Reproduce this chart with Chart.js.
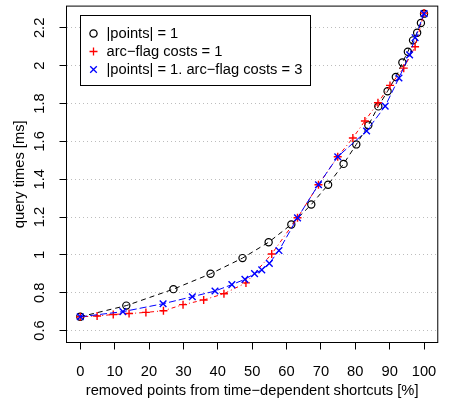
<!DOCTYPE html>
<html>
<head>
<meta charset="utf-8">
<script src="https://cdn.jsdelivr.net/npm/chart.js@4"></script>
<style>
html,body{margin:0;padding:0;background:#fff;}
#c{display:block;}
</style>
</head>
<body>
<canvas id="c" width="450" height="405"></canvas>
<script>
// ---- data ----
const pointsX = [0, 13.4, 27.1, 37.9, 47.2, 54.8, 61.4, 67.2, 72.1, 76.6, 80.3, 83.8, 86.7, 89.4, 91.8, 93.7, 95.3, 96.8, 98.0, 99.1, 100];
const pointsY = [0.673, 0.732, 0.819, 0.900, 0.983, 1.067, 1.161, 1.266, 1.371, 1.481, 1.584, 1.685, 1.785, 1.865, 1.940, 2.017, 2.074, 2.134, 2.174, 2.226, 2.275];

const arcX = [0, 4.9, 9.6, 14.2, 19.1, 24.2, 29.9, 35.9, 41.8, 48.2, 55.7, 63.2, 69.3, 74.9, 79.3, 82.8, 86.6, 90.1, 94.1, 97.4, 100];
const arcY = [0.673, 0.677, 0.685, 0.690, 0.696, 0.705, 0.737, 0.762, 0.795, 0.852, 1.005, 1.196, 1.371, 1.519, 1.618, 1.708, 1.804, 1.896, 1.987, 2.100, 2.278];

const bothX = [0, 12.4, 24.1, 32.6, 39.2, 44.1, 47.9, 50.7, 52.8, 55.0, 57.8, 63.2, 69.3, 74.9, 83.3, 88.7, 92.7, 95.8, 97.4, 100];
const bothY = [0.673, 0.700, 0.742, 0.779, 0.809, 0.843, 0.871, 0.901, 0.921, 0.955, 1.023, 1.196, 1.371, 1.519, 1.655, 1.786, 1.935, 2.057, 2.148, 2.275];

const seriesNames = ['|points| = 1', 'arc\u2212flag costs = 1', '|points| = 1. arc\u2212flag costs = 3'];
const xTicks = [0, 10, 20, 30, 40, 50, 60, 70, 80, 90, 100];
const yTicks = [0.6, 0.8, 1.0, 1.2, 1.4, 1.6, 1.8, 2.0, 2.2];
const xTitle = 'removed points from time\u2212dependent shortcuts [%]';
const yTitle = 'query times [ms]';

const FONT = '"Liberation Sans", Arial, Helvetica, sans-serif';
const FS = 14.7;
const zip = (xs, ys) => xs.map((x, i) => ({x: x, y: ys[i]}));

const boxPlugin = {
  id: 'rbox',
  beforeDatasetsDraw(chart) {
    const {ctx, chartArea: a} = chart;
    ctx.save();
    ctx.strokeStyle = '#000';
    ctx.lineWidth = 1;
    ctx.strokeRect(a.left, a.top, a.right - a.left, a.bottom - a.top);
    // rotated y tick labels
    const ys = chart.scales.y;
    ctx.fillStyle = '#000';
    ctx.font = FS + 'px ' + FONT;
    ctx.textAlign = 'center';
    ctx.textBaseline = 'middle';
    yTicks.forEach(v => {
      const py = ys.getPixelForValue(v);
      ctx.save();
      ctx.translate(39.5, py);
      ctx.rotate(-Math.PI / 2);
      ctx.fillText(String(Math.round(v * 10) / 10), 0, 0);
      ctx.restore();
    });
    ctx.restore();
  },
  afterDraw(chart) {
    const ctx = chart.ctx;
    ctx.save();
    const bx = 80.5, by = 15.5, bw = 230, bh = 70;
    ctx.fillStyle = '#fff';
    ctx.fillRect(bx, by, bw, bh);
    ctx.strokeStyle = '#000';
    ctx.lineWidth = 1;
    ctx.strokeRect(bx, by, bw, bh);
    const rows = [33.5, 51.5, 69.5];
    const sx = 93.5;
    ctx.lineWidth = 1.3;
    // circle
    ctx.beginPath();
    ctx.arc(sx, rows[0], 3.6, 0, Math.PI * 2);
    ctx.strokeStyle = '#000';
    ctx.stroke();
    // plus
    ctx.strokeStyle = '#ff0000';
    ctx.beginPath();
    ctx.moveTo(sx - 4, rows[1]); ctx.lineTo(sx + 4, rows[1]);
    ctx.moveTo(sx, rows[1] - 4); ctx.lineTo(sx, rows[1] + 4);
    ctx.stroke();
    // x
    ctx.strokeStyle = '#0000ff';
    ctx.beginPath();
    ctx.moveTo(sx - 3.3, rows[2] - 3.3); ctx.lineTo(sx + 3.3, rows[2] + 3.3);
    ctx.moveTo(sx - 3.3, rows[2] + 3.3); ctx.lineTo(sx + 3.3, rows[2] - 3.3);
    ctx.stroke();
    ctx.fillStyle = '#000';
    ctx.font = FS + 'px ' + FONT;
    ctx.textAlign = 'left';
    ctx.textBaseline = 'middle';
    seriesNames.forEach((t, i) => ctx.fillText(t, 106.5, rows[i]));
    ctx.restore();
  }
};

new Chart(document.getElementById('c'), {
  type: 'line',
  data: {
    datasets: [
      {
        label: seriesNames[0], data: zip(pointsX, pointsY),
        borderColor: '#000', borderWidth: 1, borderDash: [5, 4],
        pointStyle: 'circle', pointRadius: 3.6, pointBorderWidth: 1.2,
        pointBorderColor: '#000', pointBackgroundColor: 'rgba(255,255,255,0)',
        fill: false, tension: 0, order: 3
      },
      {
        label: seriesNames[1], data: zip(arcX, arcY),
        borderColor: '#ff0000', borderWidth: 1, borderDash: [1, 3, 4, 3],
        pointStyle: 'cross', pointRadius: 4, pointBorderWidth: 1.4,
        pointBorderColor: '#ff0000', pointBackgroundColor: '#ff0000',
        fill: false, tension: 0, order: 2
      },
      {
        label: seriesNames[2], data: zip(bothX, bothY),
        borderColor: '#0000ff', borderWidth: 1, borderDash: [7, 3],
        pointStyle: 'crossRot', pointRadius: 4.7, pointBorderWidth: 1.4,
        pointBorderColor: '#0000ff', pointBackgroundColor: '#0000ff',
        fill: false, tension: 0, order: 1
      }
    ]
  },
  options: {
    responsive: false,
    animation: false,
    devicePixelRatio: 1,
    layout: {padding: {left: 0, right: 0.5, top: 2.5, bottom: 0}},
    plugins: {legend: {display: false}, tooltip: {enabled: false}},
    scales: {
      x: {
        type: 'linear', min: -4, max: 104,
        afterBuildTicks: s => { s.ticks = xTicks.map(v => ({value: v})); },
        afterFit: s => { s.height = 62.5; },
        grid: {drawOnChartArea: false, drawTicks: true, tickLength: 7, color: '#000', tickColor: '#000', lineWidth: 1},
        border: {display: false},
        ticks: {color: '#000', font: {family: FONT, size: FS}, padding: 13.5, maxRotation: 0, autoSkip: false},
        title: {display: true, text: xTitle, color: '#000', font: {family: FONT, size: FS}, padding: {top: 0, bottom: 5}}
      },
      y: {
        type: 'linear', min: 0.537, max: 2.315,
        afterBuildTicks: s => { s.ticks = yTicks.map(v => ({value: v})); },
        afterFit: s => { s.width = 66.5; },
        grid: {drawOnChartArea: true, drawTicks: true, tickLength: 7, color: '#bdbdbd', tickColor: '#000', lineWidth: 1},
        border: {display: false, dash: [1, 3]},
        ticks: {display: false},
        title: {display: true, text: yTitle, color: '#000', font: {family: FONT, size: FS}, padding: {top: 11, bottom: 0}}
      }
    }
  },
  plugins: [boxPlugin]
});
</script>
</body>
</html>
